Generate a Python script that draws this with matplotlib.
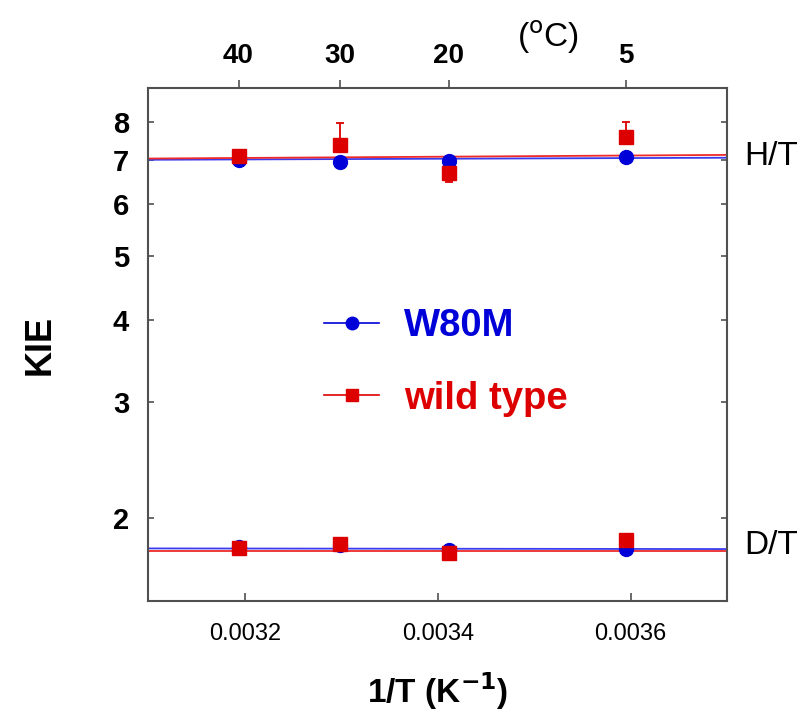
import numpy as np
import matplotlib
matplotlib.use("Agg")
import matplotlib.pyplot as plt
from matplotlib.lines import Line2D
from matplotlib.ticker import NullLocator, FixedLocator, FixedFormatter
import matplotlib.transforms as mtransforms

plt.rcParams['font.family'] = ['Liberation Sans', 'DejaVu Sans']

# Temperaturas (°C) y 1/T (K^-1)
temps_C = np.array([40, 30, 20, 5])
inv_T = 1.0 / (temps_C + 273.15)

# KIE H/T
ht_w80m = np.array([7.01, 6.96, 6.99, 7.07])
ht_wt = np.array([7.11, 7.38, 6.69, 7.60])
ht_wt_err_low = np.array([0.0, 0.0, 0.21, 0.0])
ht_wt_err_up = np.array([0.0, 0.58, 0.0, 0.40])

# KIE D/T
dt_w80m = np.array([1.81, 1.823, 1.789, 1.798])
dt_wt = np.array([1.803, 1.826, 1.770, 1.854])

# Rectas de ajuste (valores en los extremos del eje x)
fit_x = np.array([0.0031, 0.0037])
fit_ht_w80m = np.array([7.01, 7.06])
fit_ht_wt = np.array([7.04, 7.13])
fit_dt_w80m = np.array([1.801, 1.797])
fit_dt_wt = np.array([1.784, 1.784])

azul = '#0000d8'
rojo = '#dd0000'
azul_linea = '#3a3aee'
rojo_linea = '#ee2a2a'
gris = '#505050'

fig = plt.figure(figsize=(8.06, 7.19), dpi=100)
ax = fig.add_axes([0.1842, 0.1645, 0.718, 0.7127])

# Rectas de ajuste
ax.plot(fit_x, fit_ht_w80m, color=azul_linea, lw=1.3, zorder=2)
ax.plot(fit_x, fit_ht_wt, color=rojo_linea, lw=1.3, zorder=2)
ax.plot(fit_x, fit_dt_w80m, color=azul_linea, lw=1.3, zorder=2)
ax.plot(fit_x, fit_dt_wt, color=rojo_linea, lw=1.3, zorder=2)

# Datos W80M
ax.plot(inv_T, ht_w80m, 'o', color=azul, ms=10, mec=azul, zorder=3)
ax.plot(inv_T, dt_w80m, 'o', color=azul, ms=10, mec=azul, zorder=3)

# Datos wild type
ax.errorbar(inv_T, ht_wt, yerr=[ht_wt_err_low, ht_wt_err_up], fmt='s',
            color=rojo, ms=10.5, mec=rojo, ecolor=rojo, elinewidth=1.3,
            capsize=3, capthick=1.3, zorder=4)
ax.plot(inv_T, dt_wt, 's', color=rojo, ms=10.5, mec=rojo, zorder=4)

ax.set_xlim(0.0031, 0.0037)
ax.set_yscale('log')
ax.set_ylim(1.5, 9.0)

yticks = [2, 3, 4, 5, 6, 7, 8]
ax.yaxis.set_major_locator(FixedLocator(yticks))
ax.yaxis.set_major_formatter(FixedFormatter([str(v) for v in yticks]))
ax.yaxis.set_minor_locator(NullLocator())
ax.set_xticks([0.0032, 0.0034, 0.0036])
ax.set_xticklabels(['0.0032', '0.0034', '0.0036'])

ax.tick_params(axis='x', direction='in', top=True, length=6, width=1.2,
               color=gris, labelsize=17, pad=16)
ax.tick_params(axis='y', direction='in', right=True, length=4, width=1.2,
               color=gris, labelsize=21, pad=14)
for lab in ax.get_yticklabels():
    lab.set_fontweight('bold')
for s in ax.spines.values():
    s.set_color(gris)
    s.set_linewidth(1.5)

ax.set_xlabel('1/T (K$^{\\mathbf{-1}}$)', fontsize=24, fontweight='bold', labelpad=18)
ax.set_ylabel('KIE', fontsize=26, fontweight='bold', labelpad=40)

# Eje superior en °C
ax2 = ax.twiny()
ax2.set_xlim(ax.get_xlim())
ax2.set_xticks(inv_T)
ax2.set_xticklabels([str(t) for t in temps_C], fontweight='bold')
ax2.tick_params(axis='x', direction='out', length=6, width=1.2, color=gris,
                labelsize=20, pad=8)
for s in ax2.spines.values():
    s.set_visible(False)
ax2.text(0.69, 1.10, '($^{\\rm o}$C)', transform=ax2.transAxes, fontsize=24,
         ha='center', va='center')

# Etiquetas a la derecha
trans = mtransforms.blended_transform_factory(ax.transAxes, ax.transData)
ax.text(1.03, 7.1, 'H/T', transform=trans, fontsize=24, ha='left', va='center')
ax.text(1.03, 1.82, 'D/T', transform=trans, fontsize=24, ha='left', va='center')

# Leyenda
handles = [Line2D([], [], color=azul, lw=1.2, marker='o', ms=9),
           Line2D([], [], color=rojo, lw=1.2, marker='s', ms=9)]
leg = ax.legend(handles, ['W80M', 'wild type'], loc='center left',
                bbox_to_anchor=(0.244, 0.465), frameon=False,
                prop={'size': 27.5, 'weight': 'bold'}, handlelength=1.45,
                handletextpad=0.65, labelspacing=0.95)
for txt, c in zip(leg.get_texts(), [azul, rojo]):
    txt.set_color(c)

fig.savefig('out.png', dpi=100)
